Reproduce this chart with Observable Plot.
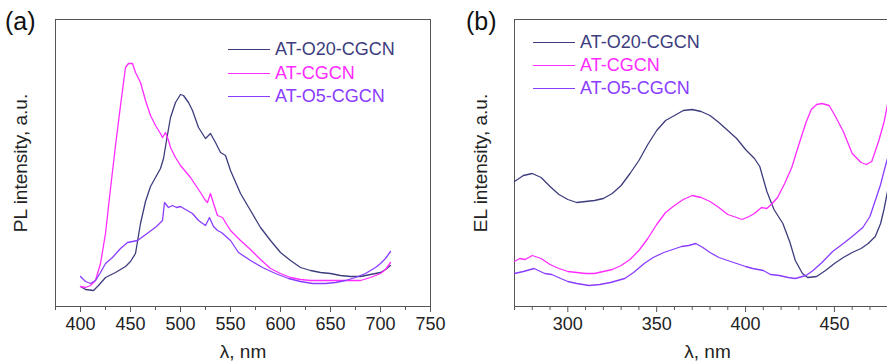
<!DOCTYPE html>
<html><head><meta charset="utf-8">
<script src="https://cdn.jsdelivr.net/npm/d3@7"></script>
<script src="https://cdn.jsdelivr.net/npm/@observablehq/plot@0.6"></script>
<style>
body{margin:0;background:#fff;font-family:Arial,"Liberation Sans",sans-serif;}
#wrap{position:relative;width:887px;height:362px;overflow:hidden;background:#fff;}
.panel{position:absolute;top:0;overflow:visible;}
.tag{position:absolute;top:9px;font-size:25px;line-height:25px;color:#111;}
.legend{position:absolute;font-size:18px;}
.legend .row{display:flex;align-items:center;height:23.5px;white-space:nowrap;}
.legend .sw{width:42px;height:0;border-top:1.5px solid;margin-right:5px;}
</style></head>
<body>
<div id="wrap">
  <div class="tag" style="left:5px">(a)</div>
  <div class="tag" style="left:466px">(b)</div>
</div>
<script>
// ---------- Panel (a): PL spectra ----------
const plO20_x = [400,405,413,418,425,435,445,450,455,460,465,470,475,480,483,486,490,495,500,503,508,512,518,525,530,535,540,545,550,560,570,580,590,600,610,620,630,640,650,660,670,680,690,700,705,710];
const plO20_y = [20,17,16,21,29,34,40,45,53,83,105,120,129,138,148,166,189,204,212,211,204,196,179,168,173,164,154,151,136,113,96,79,66,54,46,39,36,34,33,31,30,30,32,34,37,41];
const plCGCN_x = [400,405,410,415,420,425,430,435,440,445,448,452,455,460,465,470,475,480,482,485,488,490,495,500,510,520,525,527,530,533,537,542,545,550,560,570,580,590,600,610,620,630,640,650,660,670,680,690,700,705,710];
const plCGCN_y = [20,19,21,26,43,73,118,161,201,239,243,243,234,224,206,191,181,173,169,174,166,159,149,141,129,114,106,104,113,103,91,89,84,76,66,57,47,38,33,29,27,26,26,26,26,26,26,29,33,37,44];
const plO5_x = [400,405,410,415,420,425,432,440,447,457,468,476,482,484,488,492,496,500,505,512,518,525,529,533,537,541,550,558,570,582,595,608,620,632,645,655,665,675,685,695,700,705,710];
const plO5_y = [30,25,23,26,34,43,49,58,64,66,74,80,86,104,99,101,99,100,97,93,86,81,89,80,76,74,66,54,46,39,33,28,25,23,23,24,26,29,33,39,43,48,55];
const plMajorTicks = [400,450,500,550,600,650,700,750];
const plMinorTicks = [375,425,475,525,575,625,675,725];

// ---------- Panel (b): EL spectra ----------
const elO20_x = [270,275,280,285,290,295,300,305,310,315,320,325,330,335,340,345,350,355,360,365,370,375,380,385,390,395,400,405,408,412,416,421,425,428,432,435,440,445,450,455,460,465,469,473,476,478,480];
const elO20_y = [125,131,133,129,120,112,107,104,105,106,108,113,121,133,146,162,176,186,191,196,197,195,191,184,176,168,157,148,140,115,97,83,64,46,33,29,30,36,43,49,54,58,63,70,83,98,116];
const elCGCN_x = [270,273,276,280,285,290,295,300,305,310,315,320,325,330,335,340,345,350,355,360,365,370,375,380,385,390,395,398,402,405,409,412,415,418,422,426,430,434,437,440,443,447,450,455,460,465,468,471,475,478,480];
const elCGCN_y = [45,48,47,51,48,42,38,35,34,33,33,35,37,41,47,56,68,82,94,101,107,111,109,105,99,92,89,87,90,93,99,98,103,109,123,139,162,184,197,202,203,201,192,175,153,144,142,145,166,185,203];
const elO5_x = [270,275,281,287,291,296,300,305,312,318,324,332,337,343,348,354,359,364,368,372,376,380,385,390,395,400,404,410,414,419,424,428,434,438,443,449,455,460,466,470,473,476,478,480];
const elO5_y = [33,35,38,33,32,28,25,23,21,22,24,28,34,43,49,54,57,60,61,63,59,54,49,46,43,40,38,36,32,31,29,28,31,36,44,55,63,70,79,90,106,122,136,149];
const elMajorTicks = [300,350,400,450];
const elMinorTicks = [270,280,290,310,320,330,340,360,370,380,390,410,420,430,440,460,470,480];

const seriesNames = ["AT-O20-CGCN", "AT-CGCN", "AT-O5-CGCN"];
const seriesColors = ["#3d3d7e", "#ff2bff", "#8a3cff"];

function toRows(xs, ys, name) { return xs.map((x, i) => ({x, y: ys[i], name})); }

const font = "Arial, 'Liberation Sans', sans-serif";

function panel({width, marginLeft, xDomain, major, minor, ylabel, ylabelDx, data}) {
  return Plot.plot({
    width, height: 362,
    marginLeft, marginRight: 10, marginTop: 19, marginBottom: 56,
    style: {fontFamily: font, fontSize: "18px", color: "#222", background: "transparent", overflow: "visible"},
    x: {domain: xDomain},
    y: {domain: [0, 287], axis: null},
    marks: [
      Plot.frame({stroke: "#555", strokeWidth: 1}),
      Plot.axisX({ticks: minor, tickSize: 4, text: null, label: null, stroke: "#555"}),
      Plot.axisX({ticks: major, tickSize: 6, tickPadding: 5, stroke: "#555", label: "λ, nm", labelAnchor: "center", labelOffset: 51, labelArrow: "none"}),
      Plot.text([ylabel], {frameAnchor: "left", textAnchor: "middle", lineAnchor: "middle", rotate: -90, dx: ylabelDx, fontSize: 19, fill: "#222"}),
      ...data.map((d, i) => Plot.line(d, {x: "x", y: "y", stroke: seriesColors[i], strokeWidth: 1.3}))
    ]
  });
}

const A = panel({
  width: 440, marginLeft: 55, xDomain: [375, 750],
  major: plMajorTicks, minor: plMinorTicks,
  ylabel: "PL intensity, a.u.", ylabelDx: -35,
  data: [toRows(plO20_x, plO20_y), toRows(plCGCN_x, plCGCN_y), toRows(plO5_x, plO5_y)]
});
const B = panel({
  width: 470, marginLeft: 74, xDomain: [270, 270 + 386 / 1.7773],
  major: elMajorTicks, minor: elMinorTicks,
  ylabel: "EL intensity, a.u.", ylabelDx: -34,
  data: [toRows(elO20_x, elO20_y), toRows(elCGCN_x, elCGCN_y), toRows(elO5_x, elO5_y)]
});
A.classList.add("panel"); A.style.left = "0px";
B.classList.add("panel"); B.style.left = "440px";
const wrap = document.getElementById("wrap");
wrap.insertBefore(B, wrap.firstChild);
wrap.insertBefore(A, wrap.firstChild);
for (const svg of [A, B]) {
  svg.querySelectorAll('[aria-label="x-axis label"] text').forEach(t => t.setAttribute("font-size", "19"));
}

function legend(left, top, rowH) {
  const div = document.createElement("div");
  div.className = "legend";
  div.style.left = left + "px";
  div.style.top = top + "px";
  seriesNames.forEach((n, i) => {
    const row = document.createElement("div");
    row.className = "row";
    row.style.height = rowH + "px";
    row.style.color = seriesColors[i];
    const sw = document.createElement("span");
    sw.className = "sw";
    sw.style.borderColor = seriesColors[i];
    const tx = document.createElement("span");
    tx.textContent = n;
    row.appendChild(sw); row.appendChild(tx);
    div.appendChild(row);
  });
  wrap.appendChild(div);
}
legend(228, 38, 23.5);
legend(533, 30.5, 23);
</script>
</body></html>
